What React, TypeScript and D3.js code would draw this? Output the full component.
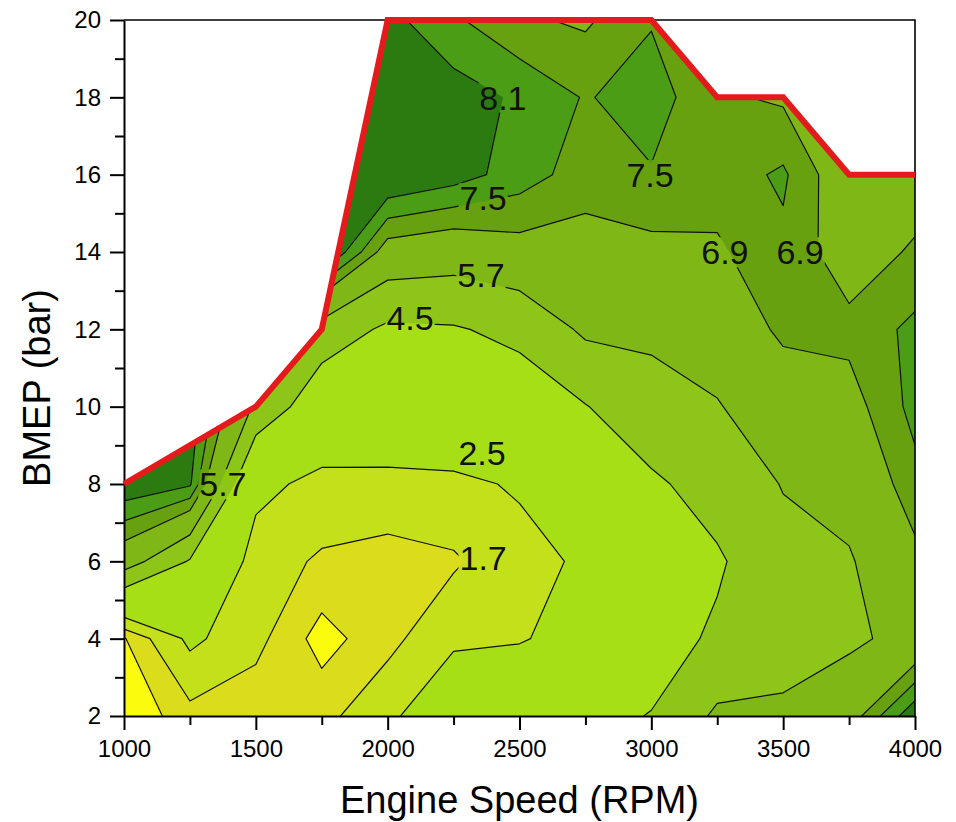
import React, { useEffect, useRef } from 'react';
import * as d3 from 'd3';

const FONT = 'Arial, "Liberation Sans", Helvetica, sans-serif';

// measured operating points: engine speed columns and BMEP rows
const rpmGrid = [1000, 1250, 1500, 1750, 2000, 2250, 2500, 2750, 3000, 3250, 3500, 3750, 4000];
const bmepGrid = [2, 4, 6, 8, 10, 12, 14, 16, 18, 20];

// contour values, one row per BMEP level
const bmep2 = [0.6, 1.46, 1.3, 1.5, 2.2, 3.73, 3.9, 4.2, 4.54, 5.9, 6.0, 6.5, 8.6];
const bmep4 = [1.05, 2.7, 1.9, 0.85, 1.5, 2.26, 2.4, 3.0, 4.0, 4.68, 5.0, 5.5, 6.06];
const bmep6 = [6.3, 4.4, 2.05, 1.6, 1.4, 1.6, 2.2, 2.64, 3.6, 4.35, 5.36, 5.6, 6.7];
const bmep8 = [8.6, 8.2, 2.8, 2.2, 2.25, 2.3, 2.6, 3.5, 4.3, 5.0, 5.75, 6.1, 7.3];
const bmep10 = [9.0, 8.5, 5.5, 3.6, 3.4, 3.5, 3.8, 4.45, 5.3, 5.65, 6.2, 6.6, 7.7];
const bmep12 = [9.5, 9.0, 6.5, 5.2, 4.3, 4.4, 4.8, 5.9, 5.9, 6.1, 7.1, 7.1, 7.65];
const bmep14 = [9.5, 9.5, 9.5, 9.0, 6.5, 6.26, 6.6, 6.6, 6.7, 6.8, 7.35, 6.5, 7.0];
const bmep16 = [9.5, 9.5, 9.5, 9.5, 8.8, 8.4, 7.8, 7.2, 7.45, 7.2, 7.6, 6.3, 6.5];
const bmep18 = [9.5, 9.5, 9.5, 9.5, 9.0, 8.4, 8.0, 7.45, 7.8, 7.0, 6.8, 6.2, 6.2];
const bmep20 = [9.5, 9.5, 9.5, 9.5, 8.3, 7.6, 7.0, 6.8, 7.45, 6.9, 6.6, 6.2, 6.2];

const levels = [1.1, 1.7, 2.5, 4.5, 5.7, 6.9, 7.5, 8.1];
const bandColors = ['#fbfb0e', '#dbdc1c', '#c4e01a', '#a6df15', '#8dc619', '#7fb816', '#67a10f', '#4a9d14', '#2b7b11'];

// full load limit (red line)
const limitRpm = [1000, 1500, 1750, 2000, 3000, 3250, 3500, 3750, 4000];
const limitBmep = [8, 10, 12, 20, 20, 18, 18, 16, 16];

// contour labels
const labelText = ['8.1', '7.5', '5.7', '4.5', '2.5', '1.7', '5.7', '7.5', '6.9', '6.9'];
const labelRpm = [2437, 2362, 2354, 2085, 2358, 2362, 1375, 2995, 3279, 3564];
const labelBmep = [18.0, 15.4, 13.4, 12.3, 8.8, 6.1, 8.0, 16.0, 14.0, 14.0];

const xTicks = [1000, 1500, 2000, 2500, 3000, 3500, 4000];
const xMinor = [1250, 1750, 2250, 2750, 3250, 3750];
const yTicks = [2, 4, 6, 8, 10, 12, 14, 16, 18, 20];
const yMinor = [3, 5, 7, 9, 11, 13, 15, 17, 19];

const dims = { width: 956, height: 822, left: 124, right: 915, top: 20, bottom: 716 };

/**
 * Draws the contour map into the given svg node.
 */
function drawChart(node: SVGSVGElement | null) {
    if (!node) return;
    const svg = d3.select(node);
    svg.selectAll('*').remove();

    const x = d3.scaleLinear().domain([1000, 4000]).range([dims.left, dims.right]);
    const y = d3.scaleLinear().domain([2, 20]).range([dims.bottom, dims.top]);

    // d3.contours puts value i at i + 0.5; map that back to rpm / bar
    const col = d3.scaleLinear().domain(rpmGrid.map((_, i) => i + 0.5)).range(rpmGrid);
    const row = d3.scaleLinear().domain(bmepGrid.map((_, j) => j + 0.5)).range(bmepGrid);
    const path = d3.geoPath(d3.geoTransform({
        point(this: any, px: number, py: number) {
            this.stream.point(x(col(px)), y(row(py)));
        }
    }));

    const values = [bmep2, bmep4, bmep6, bmep8, bmep10, bmep12, bmep14, bmep16, bmep18, bmep20].flat();
    const contours = d3.contours()
        .size([rpmGrid.length, bmepGrid.length])
        .thresholds(levels)(values);

    const limitPts: [number, number][] = limitRpm.map((r, i) => [x(r), y(limitBmep[i])]);
    const areaPts: [number, number][] = [[x(1000), y(2)], ...limitPts, [x(4000), y(2)]];
    const line = d3.line();

    const defs = svg.append('defs');
    defs.append('clipPath').attr('id', 'limitClip')
        .append('path').attr('d', line(areaPts) + 'Z');
    const mask = defs.append('mask').attr('id', 'labelGaps')
        .attr('maskUnits', 'userSpaceOnUse')
        .attr('x', 0).attr('y', 0)
        .attr('width', dims.width).attr('height', dims.height);
    mask.append('rect').attr('width', dims.width).attr('height', dims.height).attr('fill', '#fff');

    const plot = svg.append('g').attr('clip-path', 'url(#limitClip)');
    plot.append('path').attr('d', line(areaPts) + 'Z').attr('fill', bandColors[0]);
    plot.selectAll('path.band')
        .data(contours)
        .join('path')
        .attr('class', 'band')
        .attr('d', d => path(d as any))
        .attr('fill', (_, i) => bandColors[i + 1]);

    plot.append('g')
        .attr('mask', 'url(#labelGaps)')
        .selectAll('path')
        .data(contours)
        .join('path')
        .attr('d', d => path(d as any))
        .attr('fill', 'none')
        .attr('stroke', '#111')
        .attr('stroke-width', 1.2)
        .attr('stroke-linejoin', 'round');

    const labels = svg.append('g')
        .attr('font-family', FONT)
        .attr('font-size', 34)
        .attr('text-anchor', 'middle');
    labelText.forEach((t, i) => {
        const txt = labels.append('text')
            .attr('x', x(labelRpm[i]))
            .attr('y', y(labelBmep[i]))
            .attr('dy', '0.36em')
            .attr('fill', '#111')
            .text(t);
        const b = (txt.node() as SVGTextElement).getBBox();
        mask.append('rect')
            .attr('x', b.x - 1).attr('y', b.y + 4)
            .attr('width', b.width + 2).attr('height', b.height - 8)
            .attr('fill', '#000');
    });

    // axes
    const xAxis = svg.append('g')
        .attr('transform', `translate(0,${dims.bottom})`)
        .call(d3.axisBottom(x).tickValues(xTicks).tickSize(14).tickSizeOuter(0)
            .tickPadding(10).tickFormat(d3.format('d')))
        .attr('font-size', 24).attr('font-family', FONT);
    xAxis.selectAll('line, path').attr('stroke-width', 2);
    svg.append('g')
        .attr('transform', `translate(0,${dims.bottom})`)
        .call(d3.axisBottom(x).tickValues(xMinor).tickSize(9).tickFormat(() => ''))
        .call(g => g.select('.domain').remove())
        .selectAll('line').attr('stroke-width', 2);

    const yAxis = svg.append('g')
        .attr('transform', `translate(${dims.left},0)`)
        .call(d3.axisLeft(y).tickValues(yTicks).tickSize(14).tickSizeOuter(0)
            .tickPadding(9).tickFormat(d3.format('d')))
        .attr('font-size', 24).attr('font-family', FONT);
    yAxis.selectAll('line, path').attr('stroke-width', 2);
    svg.append('g')
        .attr('transform', `translate(${dims.left},0)`)
        .call(d3.axisLeft(y).tickValues(yMinor).tickSize(9).tickFormat(() => ''))
        .call(g => g.select('.domain').remove())
        .selectAll('line').attr('stroke-width', 2);

    // frame: top and right edge
    svg.append('path')
        .attr('d', `M${dims.left},${dims.top}H${dims.right}V${dims.bottom}`)
        .attr('fill', 'none').attr('stroke', '#000').attr('stroke-width', 1.6);

    // full load limit
    svg.append('path')
        .attr('d', line(limitPts))
        .attr('fill', 'none')
        .attr('stroke', '#e41a1c')
        .attr('stroke-width', 6)
        .attr('stroke-linejoin', 'miter');

    svg.append('text')
        .attr('x', (dims.left + dims.right) / 2)
        .attr('y', 813)
        .attr('text-anchor', 'middle')
        .attr('font-family', FONT)
        .attr('font-size', 38)
        .text('Engine Speed (RPM)');

    svg.append('text')
        .attr('transform', 'translate(50,388) rotate(-90)')
        .attr('text-anchor', 'middle')
        .attr('font-family', FONT)
        .attr('font-size', 38)
        .text('BMEP (bar)');
}

export default function App() {
    const svgRef = useRef<SVGSVGElement>(null);

    useEffect(() => {
        drawChart(svgRef.current);
    }, []);

    return (
        <svg
            ref={svgRef}
            width={dims.width}
            height={dims.height}
            style={{ position: 'absolute', left: 0, top: 0, background: '#fff' }} />
    );
}
